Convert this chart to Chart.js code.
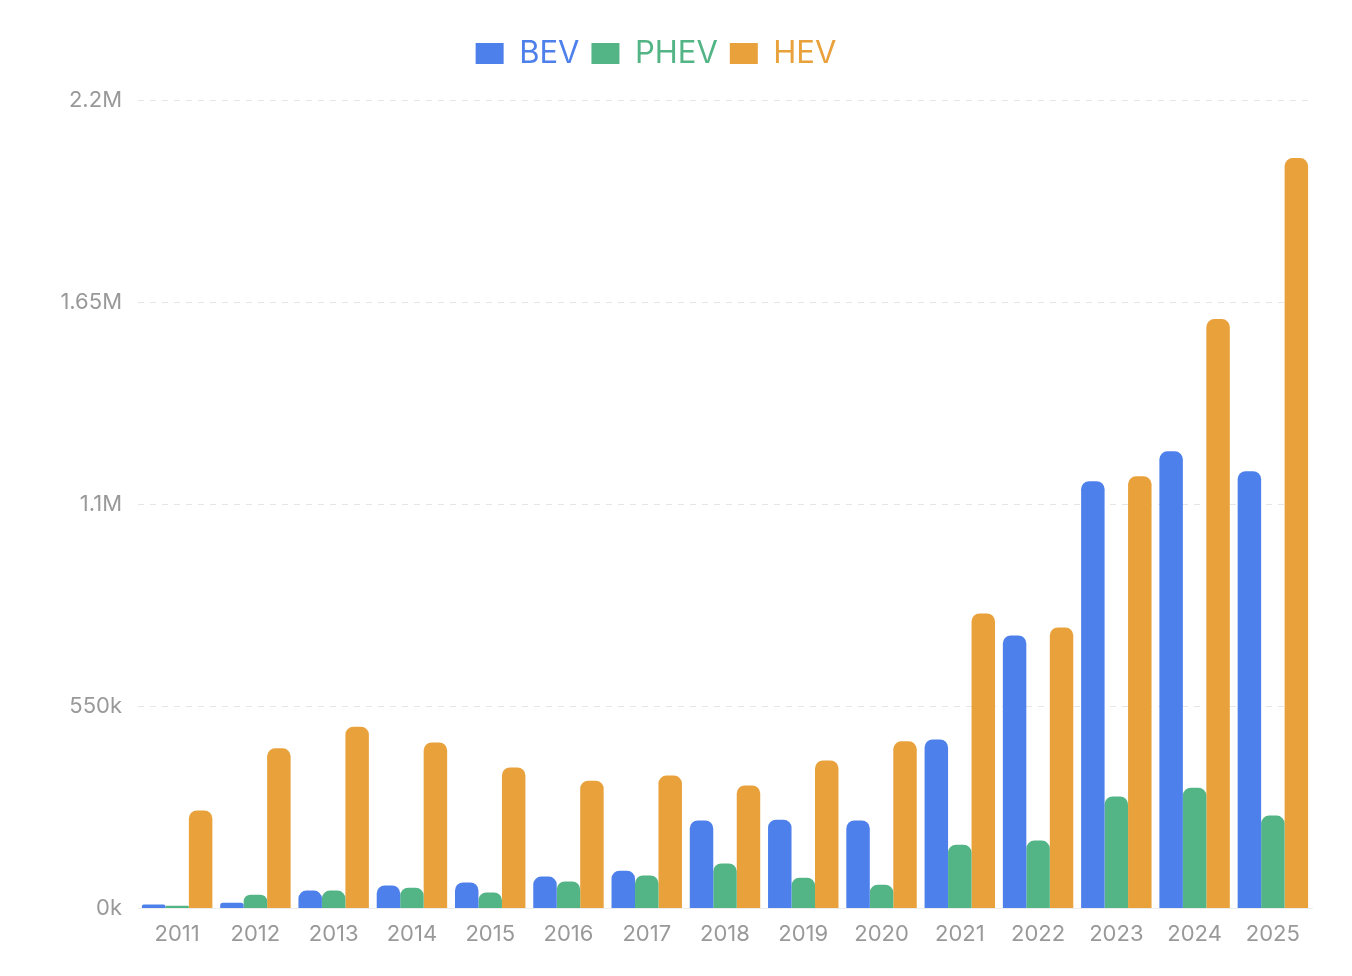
<!DOCTYPE html>
<html>
<head>
<meta charset="utf-8">
<script src="https://cdn.jsdelivr.net/npm/chart.js@4"></script>
<style>
html,body{margin:0;padding:0;background:#fff;}
#wrap{width:1352px;height:976px;}
</style>
</head>
<body>
<div id="wrap"><canvas id="c" width="1352" height="976"></canvas></div>
<script>
const categories = ['2011','2012','2013','2014','2015','2016','2017','2018','2019','2020','2021','2022','2023','2024','2025'];
const bev  = [11000, 16000, 49000, 63000, 71000, 87000, 103000, 240000, 242000, 240000, 460000, 743000, 1163000, 1244000, 1190000];
const phev = [8000, 38000, 49000, 57000, 44000, 74000, 90000, 123000, 84000, 65000, 174000, 185000, 305000, 329000, 253000];
const hev  = [267000, 436000, 495000, 452000, 384000, 348000, 362000, 335000, 403000, 455000, 803000, 765000, 1176000, 1604000, 2042000];
const yTickValues = [0, 550000, 1100000, 1650000, 2200000];
const yTickLabels = ['0k', '550k', '1.1M', '1.65M', '2.2M'];

const colors = {BEV:'#4E80EC', PHEV:'#53B586', HEV:'#E9A23B'};
const font = "Inter, 'Noto Sans', sans-serif";

const legendMargin = {
  id: 'legendMargin',
  beforeInit(chart) {
    const orig = chart.legend.fit;
    chart.legend.fit = function() { orig.call(this); this.height += 21; };
  }
};

new Chart(document.getElementById('c'), {
  type: 'bar',
  data: {
    labels: categories,
    datasets: [
      {label:'BEV', data: bev, backgroundColor: colors.BEV},
      {label:'PHEV', data: phev, backgroundColor: colors.PHEV},
      {label:'HEV', data: hev, backgroundColor: colors.HEV}
    ]
  },
  plugins: [legendMargin],
  options: {
    responsive: false,
    animation: false,
    layout: {padding: {left: 0, right: 40, top: 26, bottom: 23}},
    datasets: {
      bar: {
        categoryPercentage: 0.9,
        barPercentage: 1.0,
        borderRadius: {topLeft: 8, topRight: 8, bottomLeft: 0, bottomRight: 0},
        borderSkipped: 'bottom'
      }
    },
    plugins: {
      legend: {
        position: 'top',
        labels: {
          boxWidth: 28, boxHeight: 21,
          padding: 12,
          font: {family: font, size: 31},
          generateLabels(chart) {
            return chart.data.datasets.map((ds, i) => ({
              text: ds.label, fillStyle: ds.backgroundColor, strokeStyle: ds.backgroundColor,
              lineWidth: 0, fontColor: ds.backgroundColor, datasetIndex: i, hidden: false
            }));
          }
        }
      },
      tooltip: {enabled: false}
    },
    scales: {
      x: {
        grid: {display: false},
        border: {display: true, color: '#eeeeee'},
        ticks: {color: '#999999', font: {family: font, size: 22}, padding: 5}
      },
      y: {
        min: 0, max: 2200000,
        afterFit(scale) { scale.width = 138; },
        afterBuildTicks(scale) { scale.ticks = yTickValues.map(v => ({value: v})); },
        grid: {color: '#e6e6e6', drawTicks: false},
        border: {display: false, dash: [6, 6]},
        ticks: {
          color: '#999999', font: {family: font, size: 22}, padding: 16,
          callback(value) { const i = yTickValues.indexOf(value); return i >= 0 ? yTickLabels[i] : ''; }
        }
      }
    }
  }
});
</script>
</body>
</html>
